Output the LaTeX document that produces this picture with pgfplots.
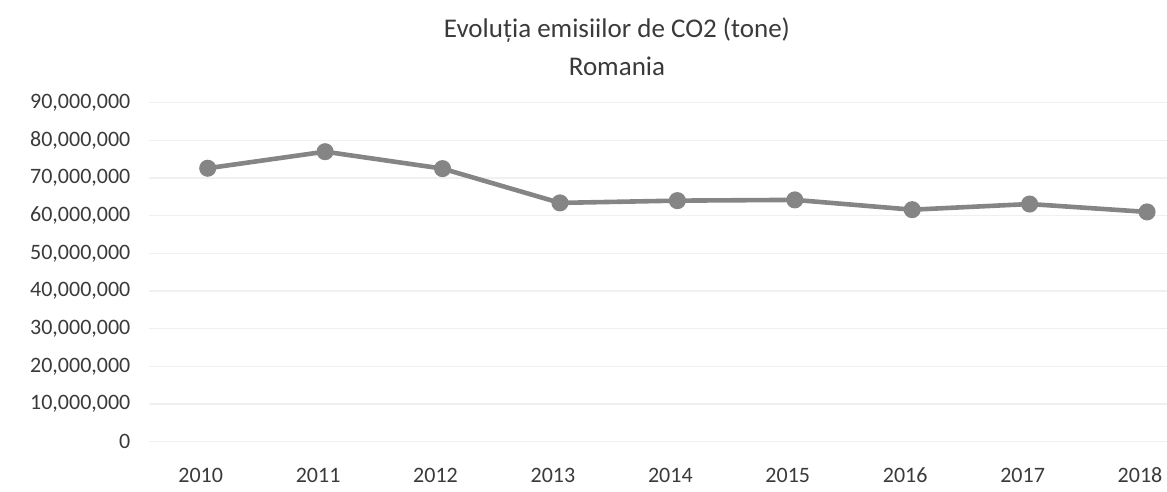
\documentclass[border=0pt]{standalone}
\usepackage{pgfplots}
\pgfplotsset{compat=1.18}
\usepackage{fontspec}
\setmainfont{Carlito}
\definecolor{txt}{HTML}{3A3A3A}
\definecolor{ln}{HTML}{858585}
\begin{document}
\begin{tikzpicture}
\useasboundingbox (-74.5pt,-25.15pt) rectangle (509pt,220.85pt);
\begin{axis}[
  scale only axis, width=509pt, height=169.5pt,
  xmin=-0.5, xmax=8.17, ymin=0, ymax=90000000,
  xtick={0,1,2,3,4,5,6,7,8},
  xticklabels={2010,2011,2012,2013,2014,2015,2016,2017,2018},
  ytick={0,10000000,20000000,30000000,40000000,50000000,60000000,70000000,80000000,90000000},
  ymajorgrids, grid style={black!6, line width=0.6pt},
  axis line style={draw=none}, major tick length=0pt,
  tick label style={font=\fontsize{11}{13}\selectfont, text=txt},
  yticklabel style={xshift=-5.8pt, /pgf/number format/fixed, /pgf/number format/precision=0, /pgf/number format/1000 sep={,}, /pgf/number format/assume math mode=true},
  scaled y ticks=false,
  xticklabel style={yshift=-9.5pt, xshift=-3.5pt},
  title={Evoluția emisiilor de CO2 (tone)\\Romania},
  title style={at={(0.4597,1)}, anchor=south, yshift=4pt, align=center, font=\fontsize{13.5}{18.9}\selectfont, text=txt},
  clip=false
]
\addplot[color=ln, line width=2.3pt, mark=*, mark size=3.1pt, mark options={fill=ln, draw=ln}] coordinates {
(0,72600000) (1,77000000) (2,72500000) (3,63400000) (4,64000000) (5,64200000) (6,61600000) (7,63100000) (8,61000000)
};
\end{axis}
\end{tikzpicture}
\end{document}
